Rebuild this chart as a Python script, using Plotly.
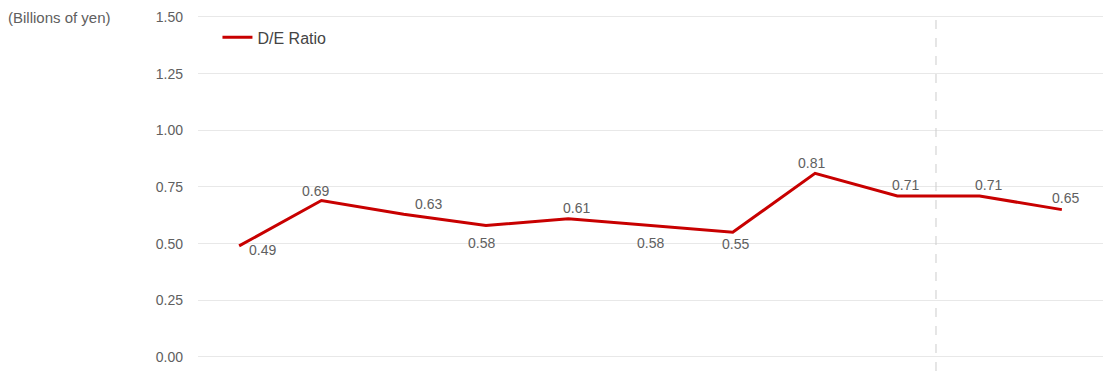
import plotly.graph_objects as go

# D/E ratio by period
periods = list(range(11))
de_ratio = [0.49, 0.69, 0.63, 0.58, 0.61, 0.58, 0.55, 0.81, 0.71, 0.71, 0.65]
y_ticks = [0.0, 0.25, 0.5, 0.75, 1.0, 1.25, 1.5]

# label nudges (px) so value labels sit clear of the line
label_dx = [23, -6, 25, -4, 8, 0, 3, -4, 8, 9, 4]
label_dy = [-4, 10, 10, -18, 11, -18, -12, 10, 11, 11, 12]

RED = "#c80000"
GREY_TEXT = "#606060"
FONT = "Liberation Sans, Arial, sans-serif"

fig = go.Figure()
fig.add_trace(go.Scatter(
    x=periods, y=de_ratio, mode="lines", name="D/E Ratio",
    line=dict(color=RED, width=3),
    hoverinfo="x+y",
))

for x, v, dx, dy in zip(periods, de_ratio, label_dx, label_dy):
    fig.add_annotation(
        x=x, y=v, text=f"{v:.2f}", showarrow=False,
        xshift=dx, yshift=dy,
        font=dict(family=FONT, size=14, color=GREY_TEXT),
    )

# forecast divider
fig.add_shape(type="line", xref="x", yref="paper", x0=8.47, x1=8.47, y0=0, y1=1,
              line=dict(color="#cccccc", width=1, dash="dash"))

fig.add_annotation(
    xref="paper", yref="paper", x=-192 / 905, y=(371 - 18) / 357,
    xanchor="left", yanchor="middle", showarrow=False,
    text="(Billions of yen)",
    font=dict(family=FONT, size=15, color=GREY_TEXT),
)

fig.update_layout(
    width=1103, height=371,
    margin=dict(l=198, r=0, t=14, b=0),
    paper_bgcolor="white", plot_bgcolor="white",
    showlegend=True,
    legend=dict(
        x=0.0215, y=0.982, xanchor="left", yanchor="top",
        bgcolor="rgba(0,0,0,0)",
        font=dict(family=FONT, size=16, color="#444444"),
    ),
    xaxis=dict(
        range=[-0.5, 10.5], showticklabels=False, showgrid=False,
        zeroline=False, showline=False, ticks="",
    ),
    yaxis=dict(
        range=[-0.062, 1.513], tickvals=y_ticks,
        ticktext=[f"{t:.2f}" for t in y_ticks],
        showgrid=True, gridcolor="#e8e8e8", gridwidth=1,
        zeroline=False, showline=False, ticks="", ticklabelstandoff=14,
        tickfont=dict(family=FONT, size=14, color=GREY_TEXT),
    ),
)

fig.write_html("out.html")
